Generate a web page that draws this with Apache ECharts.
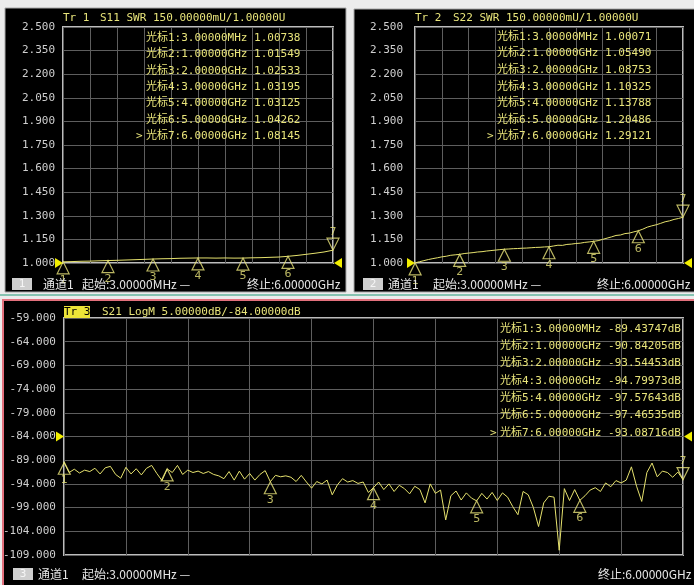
<!DOCTYPE html>
<html><head><meta charset="utf-8">
<script src="https://cdn.jsdelivr.net/npm/echarts@6/dist/echarts.min.js"></script>
<style>html,body{margin:0;padding:0;background:#ececec}#c{width:694px;height:585px}</style>
</head><body><div id="c"></div>
<script>
// ---------- data ----------
const markerNames = ['1','2','3','4','5','6','7'];
const markerFreqs = [0.003, 1, 2, 3, 4, 5, 6];                 // GHz
const markerFreqLabels = ['3.00000MHz','1.00000GHz','2.00000GHz','3.00000GHz','4.00000GHz','5.00000GHz','6.00000GHz'];
const s11Markers = [1.00738, 1.01549, 1.02533, 1.03195, 1.03125, 1.04262, 1.08145];
const s22Markers = [1.00071, 1.05490, 1.08753, 1.10325, 1.13788, 1.20486, 1.29121];
const s21Markers = [-89.43747, -90.84205, -93.54453, -94.79973, -97.57643, -97.46535, -93.08716];

// sweeps (GHz start / step) and trace values
const s11Step = 0.2;
const s11Trace = [1.0074,1.009,1.011,1.012,1.014,1.0155,1.017,1.019,1.021,1.023,1.0253,1.027,1.028,1.030,1.031,1.0320,
  1.032,1.031,1.032,1.031,1.0313,1.033,1.034,1.036,1.038,1.0426,1.048,1.055,1.062,1.070,1.0815];
const s22Step = 0.1;
const s22Trace = [1.0007,1.008,1.015,1.022,1.028,1.033,1.039,1.043,1.049,1.052,1.0549,1.060,1.063,1.066,1.070,1.072,
  1.076,1.079,1.082,1.085,1.0875,1.089,1.091,1.092,1.094,1.095,1.097,1.099,1.100,1.102,1.1033,1.108,1.113,1.112,
  1.118,1.120,1.124,1.126,1.131,1.134,1.1379,1.142,1.150,1.158,1.166,1.175,1.178,1.187,1.190,1.198,1.2049,1.215,
  1.228,1.236,1.243,1.252,1.262,1.268,1.277,1.283,1.2912];
const s21Step = 0.05;
const s21Trace = [-89.44,-91.6,-90.9,-91.7,-91.1,-91.4,-90.7,-91.9,-90.6,-90.3,-92.0,-92.8,-90.5,-91.9,-90.8,-92.1,
  -90.7,-90.1,-91.8,-93.3,-90.84,-91.6,-90.1,-92.0,-91.1,-91.6,-91.3,-91.8,-91.4,-92.0,-92.3,-92.9,-91.4,-93.2,
  -91.3,-93.0,-91.8,-93.2,-92.0,-91.2,-93.54,-92.2,-92.5,-92.3,-92.6,-93.5,-92.2,-93.6,-94.9,-93.5,-94.0,-93.2,
  -96.3,-94.2,-92.9,-93.6,-93.3,-93.9,-93.6,-95.8,-94.80,-93.6,-95.2,-94.0,-95.6,-94.3,-95.0,-96.1,-94.5,-95.2,
  -98.0,-94.0,-96.0,-95.3,-101.6,-96.5,-95.5,-97.4,-95.9,-97.0,-97.58,-96.0,-97.2,-95.8,-97.5,-95.9,-96.8,-98.8,
  -100.5,-95.6,-96.3,-99.0,-103.0,-98.0,-96.6,-96.8,-108.0,-95.0,-97.5,-95.2,-97.47,-96.5,-95.3,-94.8,-95.6,-93.8,
  -94.6,-93.3,-93.8,-93.2,-90.4,-94.5,-97.7,-91.6,-89.6,-92.5,-91.3,-91.6,-92.6,-91.5,-93.09];

// axis ranges
const swrAxis = {min: 1.0, max: 2.5, step: 0.15, ref: 1.0};
const logAxis = {min: -109, max: -59, step: 5, ref: -84};
const freqAxis = {min: 0, max: 6, step: 0.6};

const headers = [
  {tr:'Tr 1', text:'S11 SWR 150.00000mU/1.00000U'},
  {tr:'Tr 2', text:'S22 SWR 150.00000mU/1.00000U'},
  {tr:'Tr 3', text:'S21 LogM 5.00000dB/-84.00000dB'}
];
const statusStart = '起始:3.00000MHz —';
const statusStop = '终止:6.00000GHz';
const channelText = '通道1';

// ---------- styling ----------
const YEL = '#e8e47a';
const TRACE = '#e6e26e';
const MONO = "'DejaVu Sans Mono','Noto Sans CJK SC',monospace";
const CJK = "'Noto Sans CJK SC','DejaVu Sans',sans-serif";

const grids = [
  {left: 63, top: 27, width: 270, height: 236},
  {left: 415, top: 27, width: 268, height: 236},
  {left: 63, top: 318, width: 620, height: 237}
];
const axesCfg = [swrAxis, swrAxis, logAxis];
const labelMargin = [8, 12, 8];

function pts(step, arr, off) { return arr.map((v, i) => [+(i * step).toFixed(4), v - off]); }

const xAxes = grids.map((g, i) => ({
  gridIndex: i, type: 'value', min: freqAxis.min, max: freqAxis.max, interval: freqAxis.step,
  axisLine: {show: false}, axisTick: {show: false}, axisLabel: {show: false},
  splitLine: {show: true, lineStyle: {color: '#5e5e5e', width: 1}}
}));
const yAxes = grids.map((g, i) => {
  const a = axesCfg[i];
  return {
    gridIndex: i, type: 'value', min: 0, max: a.max - a.min, interval: a.step,
    axisLine: {show: false}, axisTick: {show: false},
    axisLabel: {show: true, showMinLabel: true, showMaxLabel: true, margin: labelMargin[i],
      color: '#cfcfcf', fontFamily: MONO, fontSize: 11,
      formatter: v => (v + a.min).toFixed(3)},
    splitLine: {show: true, lineStyle: {color: '#5e5e5e', width: 1}}
  };
});

function traceSeries(i, step, arr) {
  const a = axesCfg[i];
  return {
    type: 'line', xAxisIndex: i, yAxisIndex: i, data: pts(step, arr, a.min),
    showSymbol: false, lineStyle: {color: TRACE, width: 1}, z: 4, silent: true,
    markPoint: {
      symbol: 'triangle', symbolSize: [10, 8], silent: true, label: {show: false},
      itemStyle: {color: '#f2ee00'},
      data: [
        {coord: [freqAxis.min, a.ref - a.min], symbolRotate: -90, symbolOffset: [-4, 0]},
        {coord: [freqAxis.max, a.ref - a.min], symbolRotate: 90, symbolOffset: [5, 0]}
      ]
    }
  };
}
function markerSeries(i, vals) {
  const a = axesCfg[i];
  const lab = {show: true, distance: 0, color: YEL, fontSize: 11, fontFamily: 'DejaVu Sans'};
  return [{
    type: 'scatter', xAxisIndex: i, yAxisIndex: i, z: 6, silent: true,
    data: vals.slice(0, 6).map((v, k) => ({value: [markerFreqs[k], v - a.min], name: markerNames[k]})),
    symbol: 'triangle', symbolSize: [12, 12], symbolOffset: [0, 6],
    itemStyle: {color: 'rgba(0,0,0,0)', borderColor: YEL, borderWidth: 1.2},
    label: Object.assign({position: 'bottom', formatter: p => p.name}, lab)
  }, {
    type: 'scatter', xAxisIndex: i, yAxisIndex: i, z: 6, silent: true,
    data: [{value: [markerFreqs[6], vals[6] - a.min], name: markerNames[6]}],
    symbol: 'triangle', symbolSize: [12, 12], symbolRotate: 180, symbolOffset: [0, -6],
    itemStyle: {color: 'rgba(0,0,0,0)', borderColor: YEL, borderWidth: 1.2},
    label: Object.assign({position: 'top', formatter: p => p.name}, lab)
  }];
}

// ---------- chrome (panels, headers, marker tables, status bars) ----------
const g = [];
g.push({type: 'rect', z: -20, shape: {x: 5, y: 8, width: 341, height: 284}, style: {fill: '#000', stroke: '#a8a8a8', lineWidth: 1}});
g.push({type: 'rect', z: -20, shape: {x: 354, y: 9, width: 345, height: 283}, style: {fill: '#000', stroke: '#a8a8a8', lineWidth: 1}});
g.push({type: 'line', z: -19, shape: {x1: 0, y1: 295, x2: 694, y2: 295}, style: {stroke: '#86c4b2', lineWidth: 2}});
g.push({type: 'rect', z: -20, shape: {x: 3, y: 300, width: 700, height: 292}, style: {fill: '#000', stroke: '#e2707c', lineWidth: 2}});

function txt(x, y, text, opt) {
  return Object.assign({type: 'text', z: 50, x: x, y: y,
    style: Object.assign({text: text, fill: YEL, font: '11px ' + MONO, align: 'left', verticalAlign: 'middle'}, opt || {})});
}
// headers
const hdrPos = [[63, 100, 18], [415, 453, 18], [64, 102, 312]];
headers.forEach((h, i) => {
  const p = hdrPos[i];
  if (i === 2) g.push({type: 'rect', z: 49, shape: {x: p[0], y: p[2] - 6, width: 26, height: 12}, style: {fill: '#ece438'}});
  g.push(txt(p[0], p[2], h.tr, i === 2 ? {fill: '#000'} : {}));
  g.push(txt(p[1], p[2], h.text));
});
// marker tables
const tables = [
  {vals: s11Markers, x: 146, y0: 38, dy: 16.4, fmt: v => v.toFixed(5)},
  {vals: s22Markers, x: 497, y0: 37, dy: 16.6, fmt: v => v.toFixed(5)},
  {vals: s21Markers, x: 500, y0: 329, dy: 17.3, fmt: v => v.toFixed(5) + 'dB'}
];
tables.forEach(t => {
  t.vals.forEach((v, k) => {
    const y = t.y0 + k * t.dy;
    g.push(txt(t.x, y, '光标' + markerNames[k] + ':' + markerFreqLabels[k] + ' ' + t.fmt(v)));
    if (k === 6) g.push(txt(t.x - 10, y, '>'));
  });
});
// status bars
const status = [
  {n: '1', box: 12, ch: 43, st: 82, sp: 247, y: 284},
  {n: '2', box: 363, ch: 388, st: 433, sp: 597, y: 284},
  {n: '3', box: 13, ch: 38, st: 82, sp: 598, y: 574}
];
status.forEach(s => {
  g.push({type: 'rect', z: 49, shape: {x: s.box, y: s.y - 6, width: 20, height: 12}, style: {fill: '#cfcfcf'}});
  g.push(txt(s.box + 10, s.y, s.n, {fill: '#f6f6f6', align: 'center', font: '11px ' + MONO}));
  const f = {fill: '#e6e6e6', font: '12px ' + CJK};
  g.push(txt(s.ch, s.y, channelText, f));
  g.push(txt(s.st, s.y, statusStart, f));
  g.push(txt(s.sp, s.y, statusStop, f));
});

const series = [].concat(
  [traceSeries(0, s11Step, s11Trace)], markerSeries(0, s11Markers),
  [traceSeries(1, s22Step, s22Trace)], markerSeries(1, s22Markers),
  [traceSeries(2, s21Step, s21Trace)], markerSeries(2, s21Markers)
);

const chart = echarts.init(document.getElementById('c'));
chart.setOption({
  backgroundColor: '#ececec',
  animation: false,
  grid: grids.map(gr => Object.assign({show: true, borderColor: '#bdbdbd', borderWidth: 2, containLabel: false}, gr)),
  xAxis: xAxes,
  yAxis: yAxes,
  graphic: {elements: g},
  series: series
});
</script></body></html>
